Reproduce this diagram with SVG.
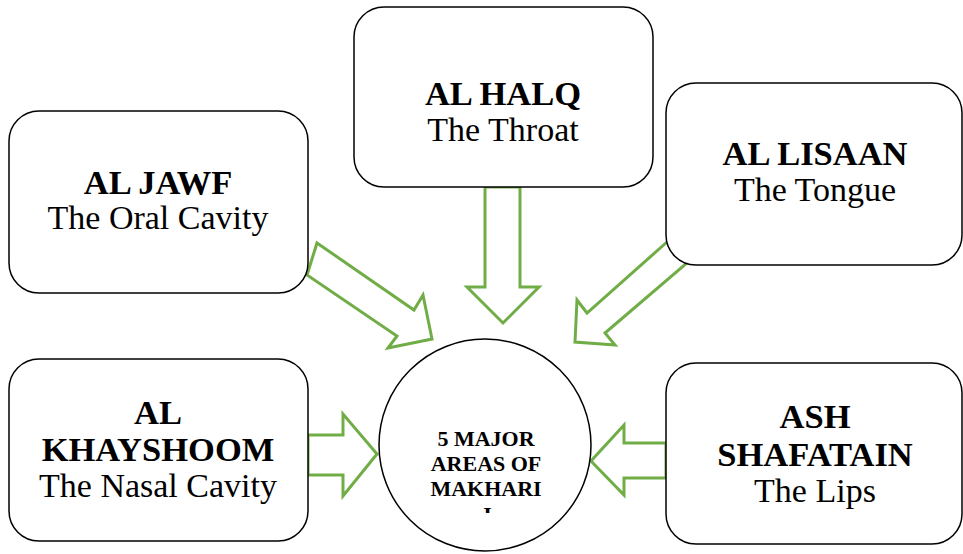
<svg xmlns="http://www.w3.org/2000/svg" width="963" height="554" viewBox="0 0 963 554">
  <style>
    .box { fill: #ffffff; stroke: #000000; stroke-width: 1.5; }
    .hub { fill: #ffffff; stroke: #000000; stroke-width: 1.5; }
    .arrow { fill: #ffffff; stroke: #70AD47; stroke-width: 3; stroke-linejoin: miter; }
    .t { font-family: "Liberation Serif", "Times New Roman", serif; text-anchor: middle; fill: #000000; }
    .title { font-size: 34.5px; font-weight: bold; }
    .sub { font-size: 34px; }
    .hubtext { font-size: 22px; font-weight: bold; }
  </style>
  <defs>
    <clipPath id="hubClip">
      <rect x="400" y="420" width="170" height="93"/>
    </clipPath>
  </defs>

  <rect x="0" y="0" width="963" height="554" fill="#ffffff"/>

  <!-- block arrows pointing at the centre -->
  <g id="connectors">
    <polygon class="arrow" points="317,243 414,310 423,295 432,339 388,348 397,336 307,275"/>
    <polygon class="arrow" points="485,187 520,187 520,287 539,287 503,323 467,287 485,287"/>
    <polygon class="arrow" points="667,242 687,263 605,333 615,345 575,342 577,300 587,313"/>
    <polygon class="arrow" points="308,435 343,435 343,414 377,454 343,496 343,475 308,475"/>
    <polygon class="arrow" points="666,443 624,443 624,425 591,461 624,495 624,478 666,478"/>
  </g>

  <g id="node-jawf">
    <rect class="box" x="9" y="111" width="299" height="182" rx="30" ry="30"/>
    <text class="t title" x="158" y="194">AL JAWF</text>
    <text class="t sub" x="158" y="229">The Oral Cavity</text>
  </g>

  <g id="node-halq">
    <rect class="box" x="354" y="7" width="299" height="180" rx="30" ry="30"/>
    <text class="t title" x="503" y="105">AL HALQ</text>
    <text class="t sub" x="503" y="141">The Throat</text>
  </g>

  <g id="node-lisaan">
    <rect class="box" x="666" y="83" width="296" height="182" rx="30" ry="30"/>
    <text class="t title" x="815" y="165">AL LISAAN</text>
    <text class="t sub" x="815" y="201">The Tongue</text>
  </g>

  <g id="node-khayshoom">
    <rect class="box" x="9" y="359" width="299" height="182" rx="30" ry="30"/>
    <text class="t title" x="158" y="424">AL</text>
    <text class="t title" x="158" y="461">KHAYSHOOM</text>
    <text class="t sub" x="158" y="497">The Nasal Cavity</text>
  </g>

  <g id="node-shafatain">
    <rect class="box" x="666" y="363" width="296" height="181" rx="30" ry="30"/>
    <text class="t title" x="815" y="428">ASH</text>
    <text class="t title" x="815" y="466">SHAFATAIN</text>
    <text class="t sub" x="815" y="502">The Lips</text>
  </g>

  <g id="node-hub">
    <circle class="hub" cx="485" cy="445" r="106"/>
    <g clip-path="url(#hubClip)">
      <text class="t hubtext" x="486" y="446">5 MAJOR</text>
      <text class="t hubtext" x="486" y="471">AREAS OF</text>
      <text class="t hubtext" x="486" y="496">MAKHARI</text>
      <text class="t hubtext" x="486" y="522">J</text>
    </g>
  </g>
</svg>
